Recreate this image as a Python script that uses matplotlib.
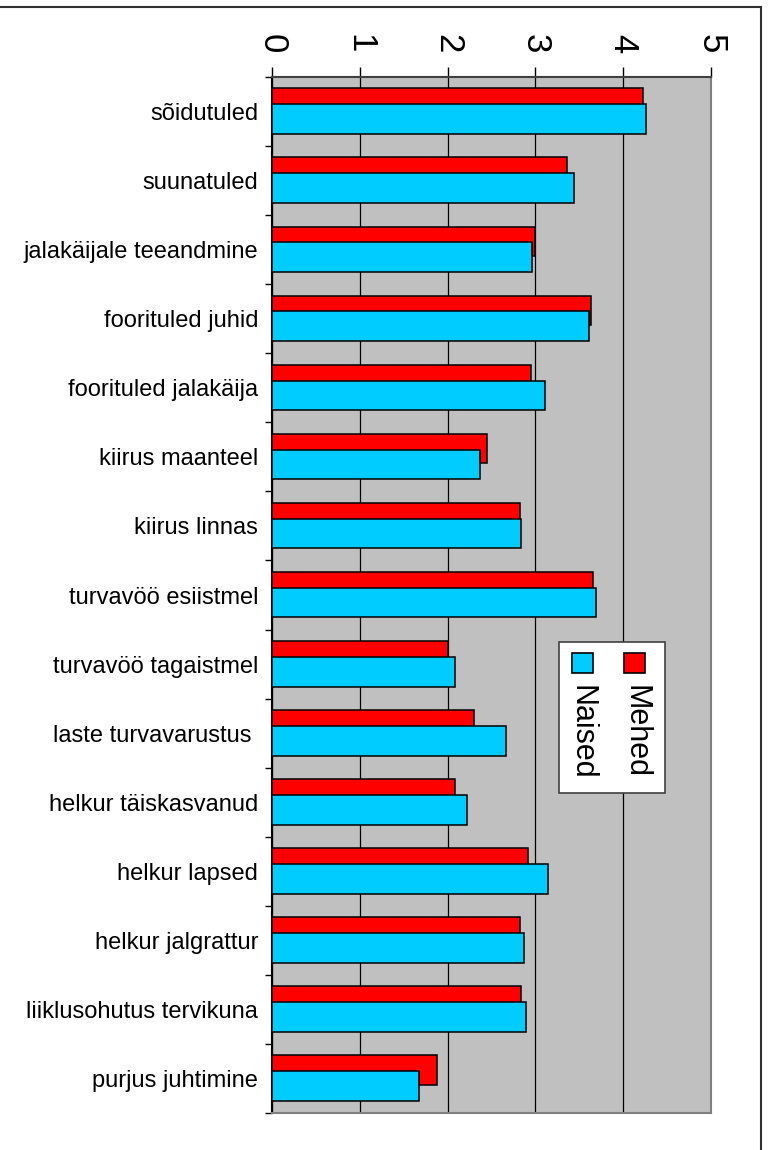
import numpy as np
import matplotlib
matplotlib.use('Agg')
import matplotlib.pyplot as plt
from matplotlib.patches import Rectangle
from matplotlib.lines import Line2D

plt.rcParams['font.family'] = ['Liberation Sans', 'DejaVu Sans']

categories = ['sõidutuled', 'suunatuled', 'jalakäijale teeandmine', 'foorituled juhid',
              'foorituled jalakäija', 'kiirus maanteel', 'kiirus linnas', 'turvavöö esiistmel',
              'turvavöö tagaistmel', 'laste turvavarustus ', 'helkur täiskasvanud', 'helkur lapsed',
              'helkur jalgrattur', 'liiklusohutus tervikuna', 'purjus juhtimine']
mehed = [4.23, 3.36, 2.99, 3.63, 2.95, 2.45, 2.82, 3.66, 2.00, 2.30, 2.08, 2.92, 2.82, 2.84, 1.88]
naised = [4.26, 3.44, 2.96, 3.61, 3.11, 2.37, 2.84, 3.69, 2.08, 2.67, 2.22, 3.14, 2.87, 2.89, 1.67]
xticks = [0, 1, 2, 3, 4, 5]

W, H = 769, 1150
fig = plt.figure(figsize=(W / 100, H / 100), dpi=100)
ax = fig.add_axes([272 / W, 1 - 1113 / H, (711 - 272) / W, (1113 - 77) / H])
ax.set_facecolor('#C0C0C0')

y = np.arange(len(categories))
ax.barh(y - 0.12, mehed, height=0.43, color='#FF0000', edgecolor='black', linewidth=1.1, zorder=3)
ax.barh(y + 0.11, naised, height=0.43, color='#00CCFF', edgecolor='black', linewidth=1.1, zorder=4)

ax.set_xlim(0, 5)
ax.set_ylim(len(categories) - 0.5, -0.5)

ax.xaxis.tick_top()
ax.set_xticks(xticks)
ax.set_xticklabels([str(t) for t in xticks], rotation=-90, fontsize=25)
ax.tick_params(axis='x', direction='out', length=7, width=1, pad=10)
ax.grid(axis='x', color='black', linewidth=0.9, zorder=1)

ax.set_yticks(y)
ax.set_yticklabels(categories, fontsize=17)
ax.set_yticks(np.arange(len(categories) + 1) - 0.5, minor=True)
ax.tick_params(axis='y', which='major', length=0, pad=10)
ax.tick_params(axis='y', which='minor', direction='out', length=5, width=1)

ax.spines['left'].set_color('black')
ax.spines['top'].set_color('#404040')
ax.spines['right'].set_color('#808080')
ax.spines['bottom'].set_color('#808080')
for s in ax.spines.values():
    s.set_linewidth(1.5)

# legend drawn by hand (rotated like the original)
def px(xp, yp):
    return xp / W, 1 - yp / H

x0, y0 = px(559, 793)
fig.add_artist(Rectangle((x0, y0), (665 - 559) / W, (793 - 642) / H, transform=fig.transFigure,
                         facecolor='white', edgecolor='#404040', linewidth=1.2, zorder=10))
for name, col, xs, xt in [('Naised', '#00CCFF', 572, 582), ('Mehed', '#FF0000', 624, 636)]:
    sx, sy = px(xs, 673)
    fig.add_artist(Rectangle((sx, sy), 21 / W, 20 / H, transform=fig.transFigure,
                             facecolor=col, edgecolor='black', linewidth=1.2, zorder=11))
    tx, ty = px(xt, 685)
    fig.text(tx, ty, name, rotation=-90, ha='center', va='top', fontsize=22, zorder=12)

# outer frame
fig.add_artist(Line2D([0, 761 / W], [1 - 7 / H, 1 - 7 / H], transform=fig.transFigure, color='#303030', lw=1.5))
fig.add_artist(Line2D([761 / W, 761 / W], [0, 1 - 7 / H], transform=fig.transFigure, color='#303030', lw=1.5))

fig.savefig('out.png', dpi=100)
